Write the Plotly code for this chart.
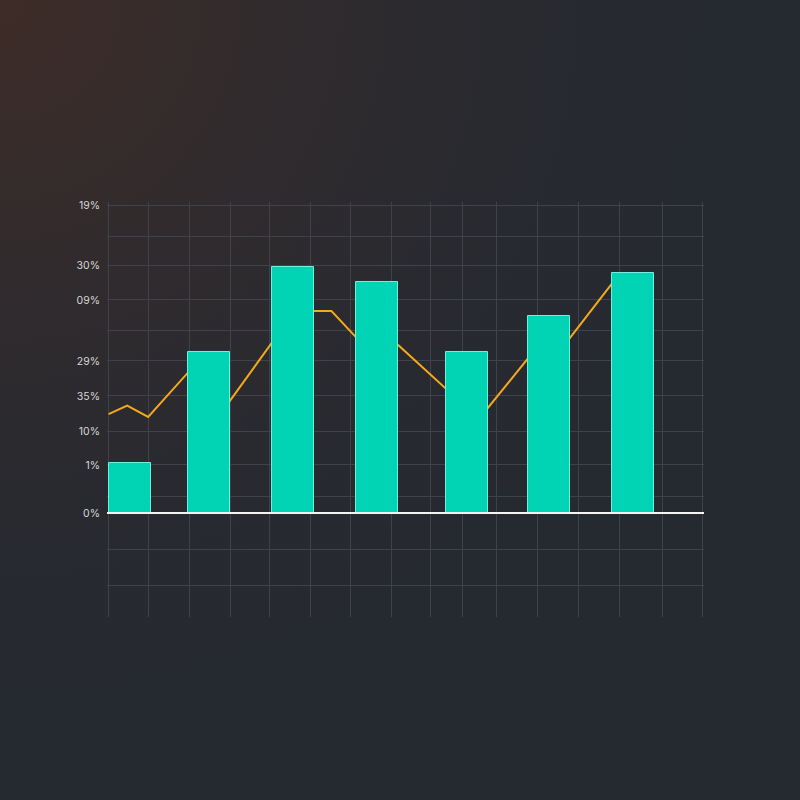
import base64
import plotly.graph_objects as go

# ---- data ----
bar_x = [0.53, 2.53, 4.66, 6.79, 9.05, 11.13, 13.25]
bar_values = [16.2, 52.3, 79.9, 75.0, 52.3, 64.0, 78.1]

line_x = [0.0, 0.47, 1.0, 2.02, 2.53, 3.07, 4.12, 4.65, 5.18, 5.63, 6.27, 6.77,
          7.32, 8.50, 9.05, 9.58, 10.62, 11.12, 11.65, 12.71, 12.86]
line_y = [32.1, 34.9, 31.2, 45.8, 49.7, 36.5, 55.2, 60.4, 65.6, 65.6, 56.8, 55.8,
          54.5, 40.6, 37.3, 34.1, 50.6, 53.9, 56.8, 74.7, 76.9]

x_grid = [0, 1.02, 2.05, 3.07, 4.07, 5.10, 6.12, 7.15, 8.14, 8.95, 9.81,
          10.84, 11.88, 12.91, 13.98, 15]
y_grid = [100, 89.9, 80.5, 69.2, 59.4, 49.4, 38.0, 26.6, 15.6, 5.5, 0, -12.0, -23.7]
y_labels = ["19%", "", "30%", "09%", "", "29%", "35%", "10%", "1%", "", "0%", "", ""]

X_RANGE = [-0.04, 15.04]
Y_RANGE = [-33.8, 101]

# ---- layout geometry ----
W, H = 800, 800
ML, MR, MT, MB = 107.4, 95.9, 202, 183
pw, ph = W - ML - MR, H - MT - MB

bg_svg = f'''<svg xmlns="http://www.w3.org/2000/svg" width="{W}" height="{H}">
<defs><radialGradient id="g" gradientUnits="userSpaceOnUse" cx="0" cy="0" r="760">
<stop offset="0" stop-color="#3e2c27"/>
<stop offset="0.35" stop-color="#312b2d"/>
<stop offset="0.7" stop-color="#282a30"/>
<stop offset="1" stop-color="#252930"/>
</radialGradient></defs>
<rect width="{W}" height="{H}" fill="url(#g)"/></svg>'''
bg_uri = "data:image/svg+xml;base64," + base64.b64encode(bg_svg.encode()).decode()

fig = go.Figure()

# orange line on the base axes (drawn beneath the bars)
fig.add_trace(go.Scatter(
    x=line_x, y=line_y, mode="lines",
    line=dict(color="#f2a91c", width=2),
    xaxis="x", yaxis="y", hoverinfo="skip", showlegend=False,
))

# bars on overlaying axes so they sit above the line
fig.add_trace(go.Bar(
    x=bar_x, y=bar_values, width=1.06,
    marker=dict(color="#00d4b4", line=dict(color="#6ef0dc", width=1)),
    xaxis="x2", yaxis="y2", showlegend=False,
))

grid_color = "#3f424a"
fig.update_layout(
    width=W, height=H,
    margin=dict(l=ML, r=MR, t=MT, b=MB),
    paper_bgcolor="#272a30",
    plot_bgcolor="rgba(0,0,0,0)",
    font=dict(family="Inter, Roboto, sans-serif", color="#d6d6d6", size=10),
    images=[dict(
        source=bg_uri, xref="paper", yref="paper",
        x=-ML / pw, y=1 + MT / ph, sizex=W / pw, sizey=H / ph,
        xanchor="left", yanchor="top", sizing="stretch", layer="below",
    )],
    xaxis=dict(
        range=X_RANGE, tickmode="array", tickvals=x_grid, showticklabels=False,
        showgrid=True, gridcolor=grid_color, gridwidth=1, zeroline=False,
        showline=False, ticks="",
    ),
    yaxis=dict(
        range=Y_RANGE, tickmode="array", tickvals=y_grid, ticktext=y_labels,
        showgrid=True, gridcolor=grid_color, gridwidth=1, zeroline=False,
        showline=False, ticks="", ticklabelstandoff=6,
        tickfont=dict(size=10.5, color="#d6d6d6"),
    ),
    xaxis2=dict(
        range=X_RANGE, overlaying="x", anchor="free",
        position=(0 - Y_RANGE[0]) / (Y_RANGE[1] - Y_RANGE[0]),
        showgrid=False, zeroline=False, showticklabels=False, ticks="",
        showline=True, linecolor="#f4f4f4", linewidth=2, layer="above traces",
    ),
    yaxis2=dict(
        range=Y_RANGE, overlaying="y", anchor="x2",
        showgrid=False, zeroline=False, showticklabels=False, ticks="",
        showline=False,
    ),
    bargap=0,
)

fig.write_html(
    "out.html",
    config={"displayModeBar": False},
    post_script="document.body.style.margin='0';document.body.style.padding='0';",
)
